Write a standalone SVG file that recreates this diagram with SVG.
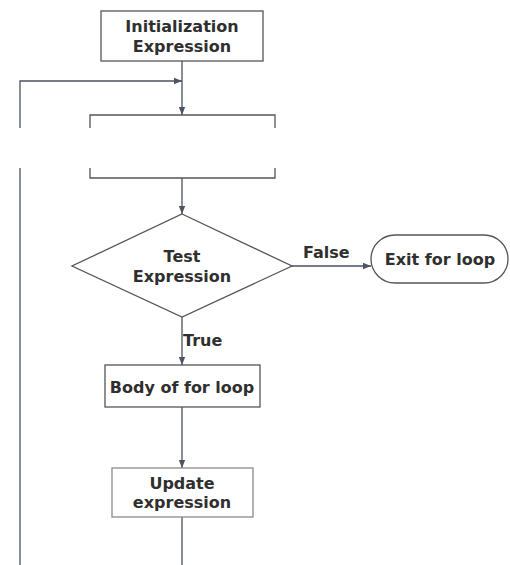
<svg xmlns="http://www.w3.org/2000/svg" width="510" height="565" viewBox="0 0 510 565">
<style>
.box{fill:#fff;stroke:#555;stroke-width:1.3}
.lite{stroke:#8a8a8a}
.ln{fill:none;stroke:#4b5160;stroke-width:1.3}
.t{font-family:"DejaVu Sans","Verdana",sans-serif;font-weight:bold;font-size:16px;fill:#2f2f2f;text-anchor:middle}
.lbl{text-anchor:start}
</style>
<defs>
<marker id="ah" viewBox="0 0 10 10" refX="10" refY="5" markerWidth="8" markerHeight="8" markerUnits="userSpaceOnUse" orient="auto">
<path d="M0,1 L10,5 L0,9 Z" fill="#4b5566"/>
</marker>
</defs>
<rect width="510" height="565" fill="#fff"/>
<g id="connectors">
<line class="ln" x1="182" y1="61" x2="182" y2="115" marker-end="url(#ah)"/>
<path class="ln" d="M20,128 L20,81 L182,81" marker-end="url(#ah)"/>
<line class="ln" x1="20" y1="168" x2="20" y2="565"/>
<line class="ln" x1="182" y1="178" x2="182" y2="214" marker-end="url(#ah)"/>
<line class="ln" x1="292" y1="266" x2="371" y2="266" marker-end="url(#ah)"/>
<line class="ln" x1="182" y1="317" x2="182" y2="365" marker-end="url(#ah)"/>
<line class="ln" x1="182" y1="407" x2="182" y2="468" marker-end="url(#ah)"/>
<line class="ln" x1="182" y1="517" x2="182" y2="565"/>
<text class="t lbl" x="303" y="258">False</text>
<text class="t lbl" x="183" y="346">True</text>
</g>
<g id="init">
<rect class="box" x="101" y="11" width="162" height="50"/>
<text class="t" x="182" y="32">Initialization</text>
<text class="t" x="182" y="52">Expression</text>
</g>
<g id="partial-box">
<path class="box" fill="none" d="M90,128 L90,115 L275,115 L275,128 M90,168 L90,178 L275,178 L275,168"/>
</g>
<g id="test">
<polygon class="box" points="182,214 292,266 182,317 72,266"/>
<text class="t" x="182" y="262">Test</text>
<text class="t" x="182" y="282">Expression</text>
</g>
<g id="exit">
<rect class="box" x="371" y="235" width="137" height="48" rx="24" ry="24"/>
<text class="t" x="440" y="265">Exit for loop</text>
</g>
<g id="body">
<rect class="box" x="105" y="365" width="155" height="42"/>
<text class="t" x="182" y="393">Body of for loop</text>
</g>
<g id="update">
<rect class="box lite" x="112" y="468" width="141" height="49"/>
<text class="t" x="182" y="489">Update</text>
<text class="t" x="182" y="508">expression</text>
</g>
</svg>
